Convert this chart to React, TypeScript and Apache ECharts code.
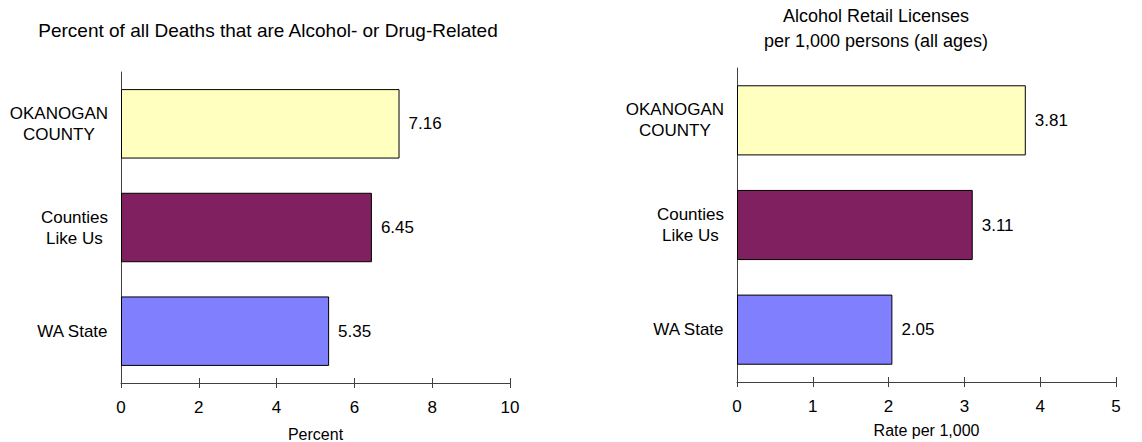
import React, { useEffect, useRef } from "react";
import * as echarts from "echarts";

const categories = ["OKANOGAN\nCOUNTY", "Counties\nLike Us", "WA State"];
const barColors = ["#FFFFC0", "#802060", "#8080FF"];
const deathsPct = [7.16, 6.45, 5.35];
const licensesRate = [3.81, 3.11, 2.05];
const leftTitle = "Percent of all Deaths that are Alcohol- or Drug-Related";
const rightTitle = "Alcohol Retail Licenses\nper 1,000 persons (all ages)";
const leftAxisName = "Percent";
const rightAxisName = "Rate per 1,000";

const FONT = "'Liberation Sans', Arial, sans-serif";
const AXIS_COLOR = "#404040";
const LABEL_SIZE = 17;

export default function App() {
  const ref = useRef<HTMLDivElement>(null);
  useEffect(() => {
    if (!ref.current) return;
    const chart = echarts.init(ref.current, null, { renderer: "svg" });
    const catLabel = {
      fontFamily: FONT,
      fontSize: LABEL_SIZE,
      color: "#000",
      margin: 13,
      align: "right" as const,
      lineHeight: 21,
      formatter: (v: string) => v.split("\n").map((l) => `{c|${l}}`).join("\n"),
      rich: { c: { align: "center" as const, fontFamily: FONT, fontSize: LABEL_SIZE, color: "#000", lineHeight: 21 } },
    };
    const mkCatAxis = (gi: number) => [
      {
        type: "category",
        gridIndex: gi,
        data: categories,
        inverse: true,
        axisLine: { lineStyle: { color: AXIS_COLOR, width: 1 } },
        axisTick: { length: 5, lineStyle: { color: AXIS_COLOR } },
        axisLabel: catLabel,
      },
      {
        type: "category",
        gridIndex: gi,
        position: "left",
        data: categories,
        inverse: true,
        axisLine: { show: false },
        axisTick: { inside: true, length: 5, lineStyle: { color: AXIS_COLOR } },
        axisLabel: { show: false },
      },
    ];
    const mkValAxis = (gi: number, max: number, interval: number, name: string, nameGap: number, margin: number) => [
      {
        type: "value",
        gridIndex: gi,
        min: 0,
        max,
        interval,
        name,
        nameLocation: "middle",
        nameGap,
        nameTextStyle: { fontFamily: FONT, fontSize: 16, color: "#000" },
        axisLine: { show: true, lineStyle: { color: AXIS_COLOR, width: 1 } },
        axisTick: { show: true, length: 5, lineStyle: { color: AXIS_COLOR } },
        axisLabel: { fontFamily: FONT, fontSize: LABEL_SIZE, color: "#000", margin },
        splitLine: { show: false },
      },
      {
        type: "value",
        gridIndex: gi,
        position: "bottom",
        min: 0,
        max,
        interval,
        axisLine: { show: false },
        axisTick: { show: true, inside: true, length: 5, lineStyle: { color: AXIS_COLOR } },
        axisLabel: { show: false },
        splitLine: { show: false },
      },
    ];
    const mkSeries = (vals: number[], xi: number, yi: number) => ({
      type: "bar",
      xAxisIndex: xi,
      yAxisIndex: yi,
      barCategoryGap: "33%",
      data: vals.map((v, i) => ({
        value: v,
        itemStyle: { color: barColors[i], borderColor: "#000", borderWidth: 1 },
      })),
      label: {
        show: true,
        position: "right",
        distance: 9,
        fontFamily: FONT,
        fontSize: LABEL_SIZE,
        color: "#000",
        formatter: (p: any) => p.value.toFixed(2),
      },
    });
    chart.setOption({
      animation: false,
      backgroundColor: "#fff",
      title: [
        {
          text: leftTitle,
          left: 263,
          top: 16,
          textAlign: "center",
          textStyle: { fontFamily: FONT, fontSize: 19, fontWeight: "normal", color: "#000" },
        },
        {
          text: rightTitle,
          left: 871,
          top: -2,
          textAlign: "center",
          textStyle: { fontFamily: FONT, fontSize: 18, fontWeight: "normal", color: "#000", lineHeight: 25 },
        },
      ],
      grid: [
        { left: 121, top: 72, width: 389, height: 311, outerBoundsMode: "none", containLabel: false },
        { left: 737, top: 68, width: 379, height: 314, outerBoundsMode: "none", containLabel: false },
      ],
      xAxis: [
        ...mkValAxis(0, 10, 2, leftAxisName, 43, 16),
        ...mkValAxis(1, 5, 1, rightAxisName, 40, 16),
      ],
      yAxis: [...mkCatAxis(0), ...mkCatAxis(1)],
      series: [mkSeries(deathsPct, 0, 0), mkSeries(licensesRate, 2, 2)],
    });
    return () => chart.dispose();
  }, []);
  return <div ref={ref} style={{ width: 1142, height: 442, position: "absolute", left: 0, top: 0 }} />;
}
